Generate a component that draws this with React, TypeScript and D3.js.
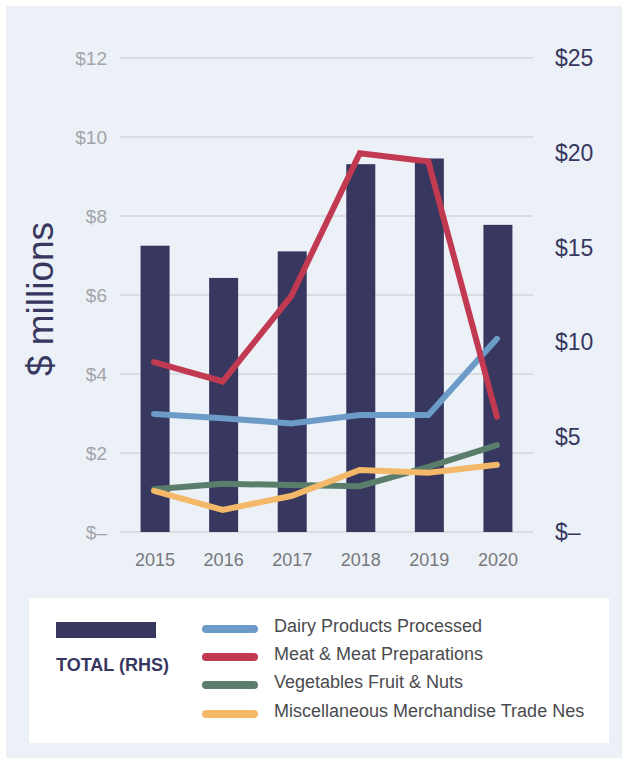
import { useEffect, useRef } from "react";
import * as d3 from "d3";

const years = ["2015", "2016", "2017", "2018", "2019", "2020"];
const total = [15.1, 13.4, 14.8, 19.4, 19.7, 16.2];
const dairy = [2.99, 2.88, 2.75, 2.96, 2.96, 4.89];
const meat = [4.3, 3.81, 5.97, 9.59, 9.38, 2.92];
const veg = [1.08, 1.22, 1.19, 1.16, 1.65, 2.2];
const misc = [1.04, 0.56, 0.91, 1.57, 1.5, 1.7];
const leftTicks = [0, 2, 4, 6, 8, 10, 12];
const rightTicks = [0, 5, 10, 15, 20, 25];

const series = [
  { name: "Dairy Products Processed", values: dairy, color: "#6b9bc6" },
  { name: "Meat & Meat Preparations", values: meat, color: "#c13a51" },
  { name: "Vegetables Fruit & Nuts", values: veg, color: "#5a7e6b" },
  { name: "Miscellaneous Merchandise Trade Nes", values: misc, color: "#f4b968" },
];

const NAVY = "#37375f";
const FONT = "'Liberation Sans', Arial, sans-serif";

function App() {
  const ref = useRef<SVGSVGElement>(null);

  useEffect(() => {
    const svg = d3.select(ref.current);
    svg.selectAll("*").remove();

    svg.append("rect").attr("x", 6).attr("y", 6).attr("width", 616).attr("height", 752).attr("fill", "#ecf1f8");

    const x = d3.scaleBand().domain(years).range([120, 533]).paddingInner(0.577).paddingOuter(0.3);
    const yL = d3.scaleLinear().domain([0, 12]).range([532, 58]);
    const yR = d3.scaleLinear().domain([0, 25]).range([532, 58]);

    // gridlines
    svg.append("g")
      .selectAll("line")
      .data(leftTicks)
      .join("line")
      .attr("x1", 120)
      .attr("x2", 533)
      .attr("y1", (d) => yL(d))
      .attr("y2", (d) => yL(d))
      .attr("stroke", "#d3d5da")
      .attr("stroke-width", 1.5);

    // left ticks
    svg.append("g")
      .selectAll("text")
      .data(leftTicks)
      .join("text")
      .attr("x", 107)
      .attr("y", (d) => yL(d))
      .attr("dy", "0.35em")
      .attr("text-anchor", "end")
      .attr("font-family", FONT)
      .attr("font-size", 19)
      .attr("fill", "#a3a4a8")
      .text((d) => (d === 0 ? "$\u2013" : `$${d}`));

    // right ticks
    svg.append("g")
      .selectAll("text")
      .data(rightTicks)
      .join("text")
      .attr("x", 555)
      .attr("y", (d) => yR(d))
      .attr("dy", "0.35em")
      .attr("font-family", FONT)
      .attr("font-size", 23)
      .attr("fill", NAVY)
      .text((d) => (d === 0 ? "$\u2013" : `$${d}`));

    // axis title
    svg.append("text")
      .attr("transform", "translate(53,299) rotate(-90)")
      .attr("text-anchor", "middle")
      .attr("font-family", FONT)
      .attr("font-size", 37)
      .attr("fill", NAVY)
      .text("$ millions");

    // bars
    svg.append("g")
      .selectAll("rect")
      .data(total)
      .join("rect")
      .attr("x", (_, i) => x(years[i])!)
      .attr("y", (d) => yR(d))
      .attr("width", x.bandwidth())
      .attr("height", (d) => yR(0) - yR(d))
      .attr("fill", NAVY);

    // x labels
    svg.append("g")
      .selectAll("text")
      .data(years)
      .join("text")
      .attr("x", (d) => x(d)! + x.bandwidth() / 2)
      .attr("y", 566)
      .attr("text-anchor", "middle")
      .attr("font-family", FONT)
      .attr("font-size", 18)
      .attr("fill", "#77787c")
      .text((d) => d);

    const line = d3
      .line<number>()
      .x((_, i) => x(years[i])! + x.bandwidth() / 2 - 1)
      .y((d) => yL(d));

    series.forEach((s) => {
      svg.append("path")
        .datum(s.values)
        .attr("d", line)
        .attr("fill", "none")
        .attr("stroke", s.color)
        .attr("stroke-width", 6)
        .attr("stroke-linecap", "round");
    });

    // legend
    svg.append("rect").attr("x", 29).attr("y", 598).attr("width", 580).attr("height", 145).attr("fill", "#ffffff");
    svg.append("rect").attr("x", 56).attr("y", 622).attr("width", 100).attr("height", 16).attr("fill", NAVY);
    svg.append("text")
      .attr("x", 56)
      .attr("y", 671)
      .attr("font-family", FONT)
      .attr("font-size", 18)
      .attr("font-weight", "bold")
      .attr("fill", NAVY)
      .text("TOTAL (RHS)");

    const ly = [629, 657, 685, 714];
    const lg = svg.append("g").selectAll("g").data(series).join("g");
    lg.append("line")
      .attr("x1", 206)
      .attr("x2", 254)
      .attr("y1", (_, i) => ly[i])
      .attr("y2", (_, i) => ly[i])
      .attr("stroke", (d) => d.color)
      .attr("stroke-width", 8)
      .attr("stroke-linecap", "round");
    lg.append("text")
      .attr("x", 274)
      .attr("y", (_, i) => ly[i] - 3)
      .attr("dy", "0.35em")
      .attr("font-family", FONT)
      .attr("font-size", 18)
      .attr("fill", "#4a4a4e")
      .text((d) => d.name);
  }, []);

  return (
    <svg
      ref={ref}
      width={622}
      height={758}
      style={{ position: "absolute", left: 0, top: 0, display: "block" }}
    />
  );
}

export default App;
